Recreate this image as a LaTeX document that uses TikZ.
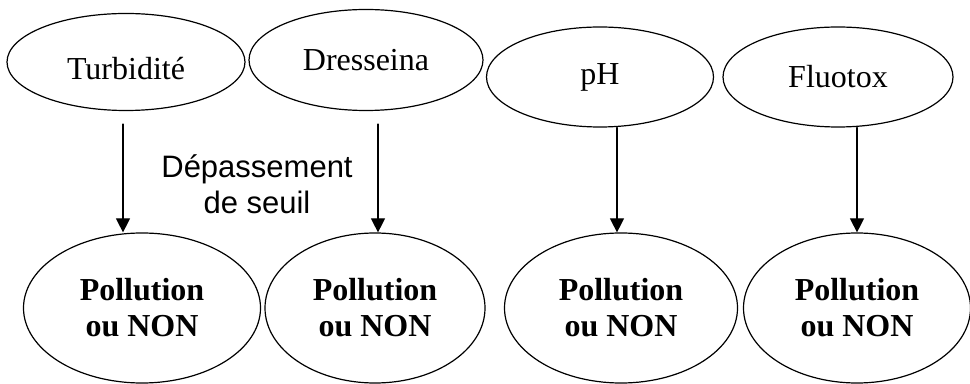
\documentclass[tikz,border=0pt]{standalone}
\usepackage{fontspec}
\setmainfont{Liberation Serif}
\setsansfont{Liberation Sans}
\usetikzlibrary{shapes.geometric,arrows.meta}
\begin{document}
\begin{tikzpicture}[x=0.75pt,y=0.75pt,line join=round,line cap=round,>={Triangle[length=10.5pt,width=10.5pt]},
		capteur/.style={draw,ellipse,line width=0.9pt,inner sep=0pt,font=\fontsize{24}{27}\selectfont},
		verdict/.style={capteur,align=center,minimum height=112.5pt,font=\fontsize{24}{27}\selectfont\bfseries},
		fleche/.style={->,line width=0.9pt}]
			\useasboundingbox (0,0) rectangle (970,-384);
			% capteurs
			\node[capteur,minimum width=178.5pt,minimum height=72.75pt] (turb) at (126,-62) {\raisebox{-13pt}[0pt][0pt]{Turbidité}};
			\node[capteur,minimum width=175.5pt,minimum height=75.75pt] (dress) at (366,-60) {Dresseina};
			\node[capteur,minimum width=170.25pt,minimum height=75pt] (ph) at (600,-77) {pH};
			\node[capteur,minimum width=172.5pt,minimum height=75pt] (fluo) at (838,-77) {Fluotox};
			% pollution ou non
			\node[verdict,minimum width=177.75pt] (poll1) at (142,-308) {Pollution\\ou NON};
			\node[verdict,minimum width=165pt] (poll2) at (375,-308) {Pollution\\ou NON};
			\node[verdict,minimum width=174.75pt] (poll3) at (621,-308) {Pollution\\ou NON};
			\node[verdict,minimum width=170.25pt] (poll4) at (857,-308) {Pollution\\ou NON};
			\node[font=\sffamily\fontsize{23.25}{27}\selectfont,align=center] (seuil) at (257,-184) {Dépassement\\de seuil};
			% fleches
			\draw[fleche] ([xshift=-2.25pt,yshift=-9.75pt]turb.south) -- ([xshift=-2.25pt]turb.south |- poll1.north);
			\draw[fleche] ([xshift=2.25pt,yshift=-9.75pt]poll2.north |- dress.south) -- ([xshift=2.25pt]poll2.north);
			\draw[fleche] ([xshift=-3pt]poll3.north |- ph.south) -- ([xshift=-3pt]poll3.north);
			\draw[fleche] (poll4.north |- fluo.south) -- (poll4.north);
\end{tikzpicture}
\end{document}
